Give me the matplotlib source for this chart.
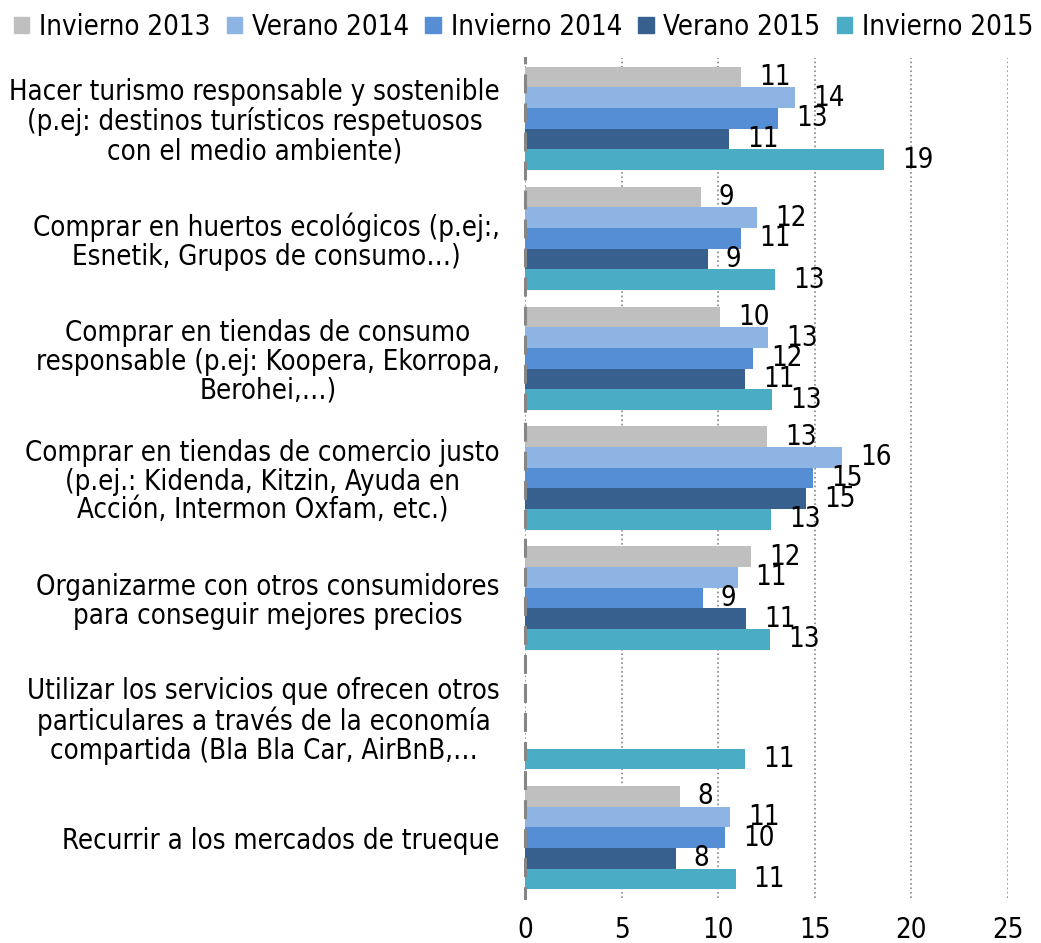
import numpy as np
import matplotlib
matplotlib.use("Agg")
import matplotlib.pyplot as plt
from matplotlib.patches import Patch

# Fuente parecida a Tahoma
plt.rcParams['font.family'] = ['DejaVu Sans']
plt.rcParams['font.stretch'] = 'condensed'
FS = 19.8

# Datos
categorias = [
    "Hacer turismo responsable y sostenible\n(p.ej: destinos turísticos respetuosos\ncon el medio ambiente)",
    "Comprar en huertos ecológicos (p.ej:,\nEsnetik, Grupos de consumo…)",
    "Comprar en tiendas de consumo\nresponsable (p.ej: Koopera, Ekorropa,\nBerohei,…)",
    "Comprar en tiendas de comercio justo\n(p.ej.: Kidenda, Kitzin, Ayuda en\nAcción, Intermon Oxfam, etc.)",
    "Organizarme con otros consumidores\npara conseguir mejores precios",
    "Utilizar los servicios que ofrecen otros\nparticulares a través de la economía\ncompartida (Bla Bla Car, AirBnB,…",
    "Recurrir a los mercados de trueque",
]
series = ["Invierno 2013", "Verano 2014", "Invierno 2014", "Verano 2015", "Invierno 2015"]
invierno_2013 = [11.2, 9.1, 10.1, 12.55, 11.7, np.nan, 8.0]
verano_2014 = [14.0, 12.0, 12.6, 16.4, 11.0, np.nan, 10.6]
invierno_2014 = [13.1, 11.2, 11.8, 14.9, 9.2, np.nan, 10.35]
verano_2015 = [10.55, 9.45, 11.4, 14.55, 11.45, np.nan, 7.8]
invierno_2015 = [18.6, 12.95, 12.8, 12.75, 12.7, 11.4, 10.9]
valores = [invierno_2013, verano_2014, invierno_2014, verano_2015, invierno_2015]
colores = ["#BFBFBF", "#8EB4E3", "#558ED5", "#37608F", "#4AACC5"]
ticks_x = [0, 5, 10, 15, 20, 25]

fig = plt.figure(figsize=(10.41, 9.43), dpi=100)
ax = fig.add_axes([0.5043, 0.0481, 0.464, 0.8899])

n = len(categorias)
y = np.arange(n)
alto = 0.1724

for i, (serie, vals, col) in enumerate(zip(series, valores, colores)):
    pos = y - 2 * alto + i * alto
    v = np.nan_to_num(np.array(vals, dtype=float))
    ax.barh(pos, v, height=alto, color=col, label=serie, zorder=3)
    for p, val in zip(pos, vals):
        if not np.isnan(val) and val > 0:
            ax.annotate(f"{val:.0f}", (val, p), xytext=(13, 0),
                        textcoords="offset points", ha="left", va="center",
                        fontsize=FS, zorder=4)

ax.set_ylim(n - 0.5, -0.5)
ax.set_xlim(0, 25)
ax.set_xticks(ticks_x)
ax.set_xticklabels([str(t) for t in ticks_x], fontsize=FS)
ax.set_yticks(y)
ax.set_yticklabels(categorias, fontsize=FS, linespacing=1.05)
for lab in ax.get_yticklabels():
    lab.set_multialignment("center")
ax.tick_params(axis="both", length=0)
ax.tick_params(axis="y", pad=18)
ax.tick_params(axis="x", pad=13)

# Rejilla punteada
ax.xaxis.grid(True, linestyle=":", color="#868686", linewidth=1.2, zorder=0)
ax.yaxis.grid(False)
for s in ["top", "right", "bottom"]:
    ax.spines[s].set_visible(False)
ax.spines["left"].set_color("#868686")
ax.spines["left"].set_linewidth(2.2)
ax.spines["left"].set_linestyle((2.0, (5.2, 4.3)))
ax.spines["left"].set_zorder(5)

# Leyenda
handles = [Patch(color=c) for c in colores]
fig.legend(handles, series, loc="upper center", bbox_to_anchor=(0.503, 0.998),
           ncol=5, frameon=False, fontsize=FS, handlelength=0.55,
           handleheight=0.55, handletextpad=0.36, columnspacing=0.6,
           borderaxespad=0.0)

fig.savefig("out.png", dpi=100)
